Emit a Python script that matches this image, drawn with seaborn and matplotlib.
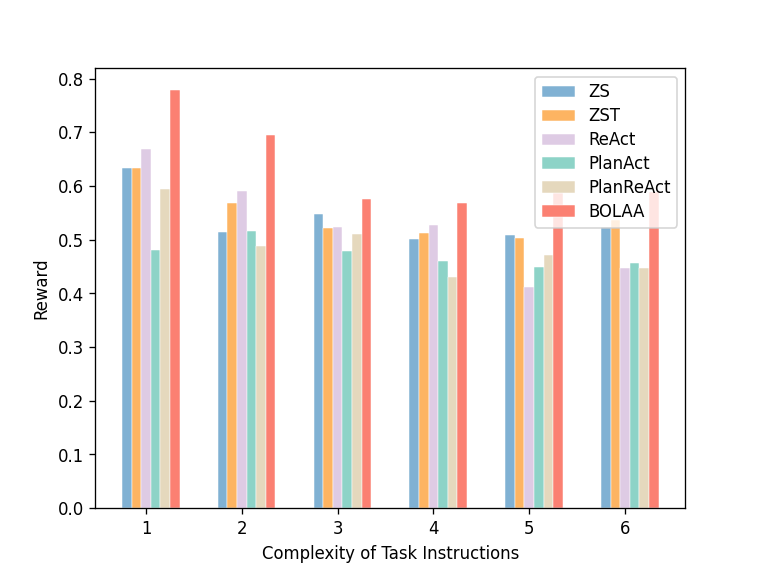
import numpy as np
import pandas as pd
import matplotlib
matplotlib.use("Agg")
import matplotlib.pyplot as plt
import seaborn as sns

groups = ["1", "2", "3", "4", "5", "6"]
methods = ["ZS", "ZST", "ReAct", "PlanAct", "PlanReAct", "BOLAA"]
zs = [0.633, 0.515, 0.548, 0.501, 0.509, 0.523]
zst = [0.634, 0.569, 0.521, 0.513, 0.504, 0.536]
react = [0.669, 0.590, 0.523, 0.528, 0.411, 0.448]
planact = [0.481, 0.516, 0.479, 0.461, 0.450, 0.457]
planreact = [0.595, 0.488, 0.510, 0.430, 0.471, 0.448]
bolaa = [0.779, 0.695, 0.576, 0.569, 0.586, 0.588]
colors = ["#80b1d3", "#fdb462", "#decbe4", "#8dd3c7", "#e5d8bd", "#fb8072"]

series = [zs, zst, react, planact, planreact, bolaa]
rows = []
for m, vals in zip(methods, series):
    for g, v in zip(groups, vals):
        rows.append({"group": g, "method": m, "reward": v})
df = pd.DataFrame(rows)

fig, ax = plt.subplots(figsize=(6.4, 4.8), dpi=119)
sns.barplot(data=df, x="group", y="reward", hue="method", order=groups,
            hue_order=methods, palette=colors, width=0.6, saturation=1,
            errorbar=None, edgecolor="white", linewidth=0.3, ax=ax)

ax.set_xticks(np.arange(len(groups)) - 0.05)
ax.set_xticklabels(groups)
ax.set_xlim(-0.58, len(groups) - 1 + 0.58)
ax.set_ylim(0, 0.819)
ax.set_yticks(np.arange(0, 0.81, 0.1))
ax.set_xlabel("Complexity of Task Instructions")
ax.set_ylabel("Reward")
ax.legend(loc="upper right", title=None, labelspacing=0.36)

fig.savefig("out.png", dpi=119)
